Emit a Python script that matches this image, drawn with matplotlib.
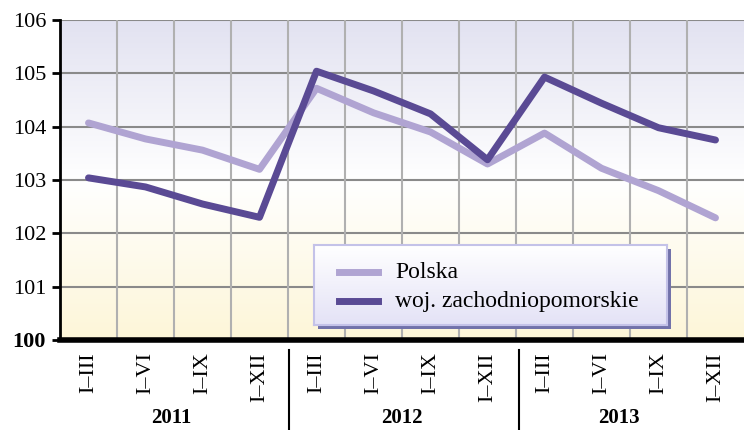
import numpy as np
import matplotlib.pyplot as plt
from matplotlib.colors import LinearSegmentedColormap
from matplotlib.patches import Rectangle

# data
quarters = ["I–III", "I–VI", "I–IX", "I–XII"]
years = ["2011", "2012", "2013"]
polska = [104.07, 103.77, 103.56, 103.20, 104.72, 104.26, 103.90, 103.30,
          103.88, 103.22, 102.80, 102.29]
zachodniopomorskie = [103.04, 102.87, 102.55, 102.30, 105.04, 104.67, 104.24,
                      103.38, 104.93, 104.44, 103.98, 103.75]
labels = ["Polska", "woj. zachodniopomorskie"]

plt.rcParams['font.family'] = ['Liberation Serif', 'DejaVu Serif']

fig = plt.figure(figsize=(7.44, 4.30), dpi=100)
ax = fig.add_axes([60 / 744, 1 - 340 / 430, 684 / 744, 320 / 430])

n = len(polska)
x = np.arange(n)
ax.set_xlim(-0.5, n - 0.5)
ax.set_ylim(100, 106)

# background gradient: lavender top -> white -> pale yellow bottom
cmap = LinearSegmentedColormap.from_list(
    "bg", [(0.0, "#fdf6d8"), (0.5, "#ffffff"), (1.0, "#e2e2f1")])
grad = np.linspace(0, 1, 256).reshape(-1, 1)
ax.imshow(grad, extent=(-0.5, n - 0.5, 100, 106), origin="lower",
          aspect="auto", cmap=cmap, zorder=0)

# grid
for yv in range(101, 107):
    ax.axhline(yv, color="#8a8a8a", lw=1.5, zorder=1)
for xv in np.arange(0.5, n - 0.5, 1):
    ax.axvline(xv, color="#b0b0b0", lw=1.5, zorder=1)

ax.plot(x, polska, color="#b0a4d2", lw=5, solid_capstyle="round",
        solid_joinstyle="round", zorder=3, label=labels[0])
ax.plot(x, zachodniopomorskie, color="#5a4a94", lw=5, solid_capstyle="round",
        solid_joinstyle="round", zorder=4, label=labels[1])

for s in ["top", "right"]:
    ax.spines[s].set_visible(False)
ax.spines["left"].set_linewidth(2)
ax.spines["bottom"].set_linewidth(4)
ax.spines["left"].set_zorder(5)
ax.spines["bottom"].set_zorder(5)

ax.set_yticks(range(100, 107))
ax.set_yticklabels([str(v) for v in range(100, 107)], fontsize=16)
ax.get_yticklabels()[0].set_fontweight("bold")
ax.tick_params(axis="y", length=6, width=2, pad=4)

ax.set_xticks(x)
ax.set_xticklabels(quarters * len(years), rotation=90, fontsize=16)
ax.tick_params(axis="x", length=0, pad=9)

# year labels and separators
year_pos = [1.45, 5.5, 9.3]
for yp, yr in zip(year_pos, years):
    ax.text(yp, -0.245, yr, transform=ax.get_xaxis_transform(),
            ha="center", va="center", fontsize=15, fontweight="bold")
for sep in [3.52, 7.55]:
    ax.plot([sep, sep], [-0.03, -0.3], color="black", lw=1.5,
            transform=ax.get_xaxis_transform(), clip_on=False)

# legend box with shadow
lx0, ly0, lx1, ly1 = 314, 245, 667, 325
def fx(px):
    return px / 744
def fy(py):
    return 1 - py / 430
fig.patches.append(Rectangle((fx(lx0 + 4), fy(ly1 + 4)), fx(lx1) - fx(lx0),
                             fy(ly0) - fy(ly1), transform=fig.transFigure,
                             facecolor="#7272aa", edgecolor="none", zorder=6))
lax = fig.add_axes([fx(lx0), fy(ly1), fx(lx1) - fx(lx0), fy(ly0) - fy(ly1)])
lax.set_zorder(7)
lg = LinearSegmentedColormap.from_list("lg", ["#e4e2f6", "#ffffff"])
lax.imshow(np.linspace(0, 1, 64).reshape(-1, 1), extent=(0, 1, 0, 1),
           origin="lower", aspect="auto", cmap=lg)
lax.set_xlim(0, 1)
lax.set_ylim(0, 1)
lax.set_xticks([])
lax.set_yticks([])
for s in lax.spines.values():
    s.set_color("#c4c2e8")
    s.set_linewidth(1.5)
lax.plot([0.07, 0.18], [0.66, 0.66], color="#b0a4d2", lw=5)
lax.plot([0.07, 0.18], [0.30, 0.30], color="#5a4a94", lw=5)
lax.text(0.23, 0.66, labels[0], va="center", fontsize=17)
lax.text(0.23, 0.30, labels[1], va="center", fontsize=17)

fig.savefig("out.png", dpi=100)
